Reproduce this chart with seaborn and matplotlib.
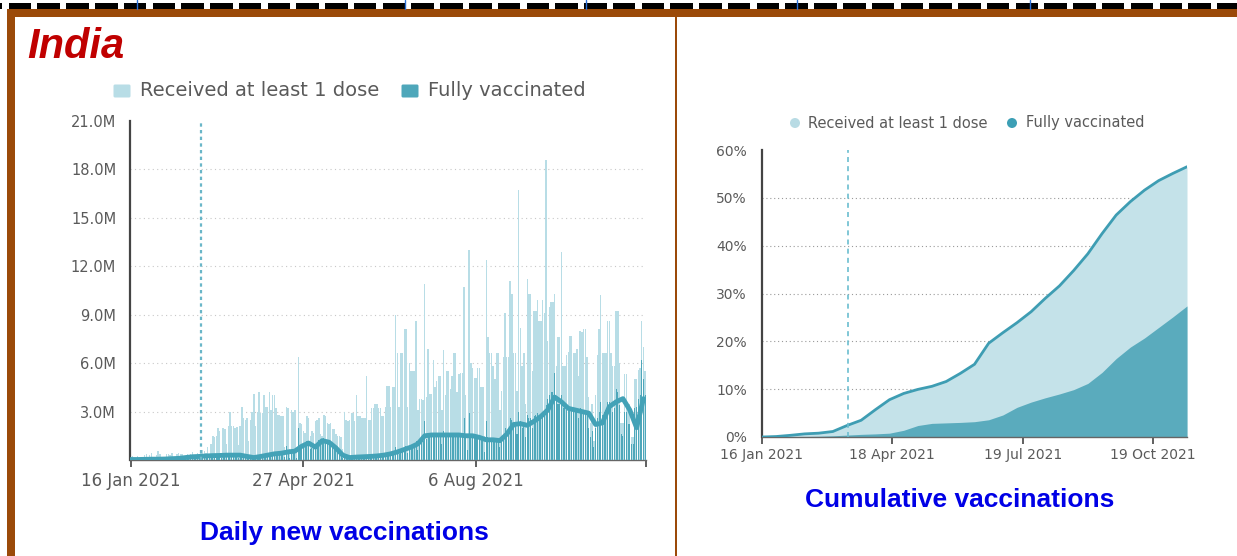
import numpy as np
import pandas as pd
import matplotlib
matplotlib.use('Agg')
import matplotlib.pyplot as plt
from matplotlib.patches import Rectangle, FancyBboxPatch, Circle
from matplotlib import font_manager as fm
import seaborn as sns

sns.set_style('white')
plt.rcParams['font.family'] = ['DejaVu Sans']

avail = {f.name for f in fm.fontManager.ttflist}
NARROW = 'Liberation Sans Narrow' in avail
title_family = 'Liberation Sans Narrow' if NARROW else 'Liberation Sans'

# ---------------- data ----------------
start_date = '2021-01-16'

# daily "received at least 1 dose" (millions), one value per day from 16 Jan 2021
first_dose_daily = [
    0.19, 0.22, 0.00, 0.15, 0.25, 0.12, 0.00, 0.20, 0.30, 0.35,
    0.10, 0.28, 0.45, 0.20, 0.05, 0.30, 0.55, 0.40, 0.20, 0.10,
    0.15, 0.40, 0.35, 0.30, 0.45, 0.10, 0.05, 0.38, 0.42, 0.40,
    0.35, 0.10, 0.12, 0.40, 0.30, 0.35, 0.50, 0.25, 0.10, 0.45,
    0.30, 0.50, 0.60, 0.55, 0.45, 0.80, 0.20, 1.00, 1.50, 1.45,
    1.50, 2.00, 1.80, 0.40, 2.00, 1.90, 1.00, 2.10, 3.00, 2.10,
    2.10, 2.00, 2.05, 0.90, 2.10, 3.30, 2.60, 2.50, 2.60, 1.20,
    2.50, 3.00, 4.10, 2.10, 3.00, 4.20, 2.90, 2.90, 4.00, 3.30,
    3.30, 4.20, 3.10, 4.00, 4.00, 3.20, 2.80, 2.80, 2.70, 2.70,
    0.80, 3.30, 3.20, 0.70, 3.10, 3.00, 3.10, 0.60, 6.40, 2.30,
    2.20, 1.80, 1.70, 2.70, 2.60, 1.50, 1.80, 1.70, 2.40, 2.50,
    2.60, 1.60, 1.50, 2.80, 2.70, 2.30, 2.20, 2.30, 1.90, 1.90,
    1.60, 1.50, 1.50, 1.40, 0.70, 3.00, 2.50, 2.40, 2.50, 2.90,
    2.90, 2.40, 4.00, 2.70, 2.70, 2.60, 2.60, 2.60, 5.20, 2.50,
    2.50, 3.20, 3.20, 3.50, 3.50, 3.20, 3.20, 2.70, 2.70, 3.30,
    4.60, 4.60, 3.30, 4.50, 4.50, 9.00, 6.60, 3.30, 6.60, 6.60,
    8.10, 8.10, 3.30, 6.00, 5.50, 5.50, 5.50, 8.60, 3.10, 3.80,
    3.80, 3.70, 10.90, 3.90, 6.90, 4.10, 4.10, 6.20, 4.50, 4.90,
    5.20, 5.20, 3.10, 6.80, 4.00, 5.50, 5.50, 4.40, 5.20, 6.60,
    6.60, 4.20, 5.30, 5.40, 5.40, 10.70, 4.00, 1.40, 13.00, 6.00,
    5.70, 5.10, 5.10, 5.70, 5.70, 4.50, 4.50, 1.50, 12.40, 7.60,
    6.60, 6.60, 5.80, 5.00, 6.60, 6.60, 3.10, 4.30, 6.40, 9.10,
    6.40, 6.40, 11.10, 10.30, 6.60, 6.60, 4.30, 16.70, 8.20, 5.80,
    6.60, 3.50, 11.20, 10.30, 10.30, 5.50, 9.20, 9.20, 9.90, 8.60,
    8.60, 9.90, 9.10, 18.60, 7.40, 9.50, 9.80, 9.80, 10.30, 5.80,
    7.60, 7.60, 12.90, 5.80, 5.80, 6.50, 6.70, 7.70, 7.70, 6.60,
    6.60, 6.90, 5.20, 8.00, 7.90, 8.10, 8.10, 6.40, 3.90, 2.30,
    3.50, 1.20, 4.00, 6.50, 8.10, 10.20, 6.60, 6.60, 6.60, 8.60,
    8.60, 6.60, 5.80, 5.80, 9.20, 9.20, 6.00, 2.30, 2.30, 5.30,
    5.30, 3.50, 3.50, 1.40, 1.40, 5.00, 5.00, 5.60, 5.70, 8.60,
    7.00, 5.50,
]

# daily "fully vaccinated" (millions)
fully_daily = [
    0.02, 0.02, 0.00, 0.02, 0.03, 0.02, 0.00, 0.03, 0.03, 0.04,
    0.03, 0.04, 0.05, 0.04, 0.02, 0.05, 0.06, 0.05, 0.04, 0.03,
    0.05, 0.06, 0.06, 0.07, 0.08, 0.05, 0.03, 0.09, 0.10, 0.11,
    0.12, 0.08, 0.07, 0.18, 0.20, 0.22, 0.25, 0.18, 0.10, 0.25,
    0.22, 0.28, 0.30, 0.28, 0.25, 0.30, 0.12, 0.28, 0.32, 0.30,
    0.30, 0.32, 0.30, 0.10, 0.30, 0.32, 0.20, 0.35, 0.33, 0.30,
    0.32, 0.30, 0.30, 0.15, 0.30, 0.35, 0.25, 0.20, 0.18, 0.08,
    0.12, 0.15, 0.18, 0.15, 0.20, 0.25, 0.22, 0.25, 0.30, 0.28,
    0.30, 0.35, 0.32, 0.38, 0.40, 0.36, 0.38, 0.42, 0.40, 0.42,
    0.20, 0.85, 0.55, 0.15, 0.55, 0.60, 0.55, 0.12, 2.00, 0.80,
    0.90, 1.00, 1.10, 1.15, 1.00, 0.70, 0.75, 0.80, 0.85, 1.10,
    1.25, 1.20, 1.30, 1.35, 1.25, 1.10, 1.00, 0.95, 0.85, 0.70,
    0.60, 0.50, 0.40, 0.30, 0.10, 0.25, 0.15, 0.12, 0.14, 0.16,
    0.18, 0.15, 0.25, 0.18, 0.20, 0.18, 0.20, 0.21, 0.30, 0.20,
    0.22, 0.24, 0.25, 0.26, 0.27, 0.25, 0.28, 0.25, 0.30, 0.35,
    0.40, 0.42, 0.35, 0.45, 0.50, 0.80, 0.60, 0.40, 0.65, 0.70,
    0.80, 0.85, 0.45, 0.75, 0.80, 0.85, 0.90, 1.20, 0.60, 1.00,
    1.10, 1.20, 2.40, 1.30, 1.70, 1.50, 1.50, 1.70, 1.50, 1.55,
    1.60, 1.60, 1.00, 1.80, 1.40, 1.60, 1.60, 1.50, 1.60, 1.70,
    1.70, 1.40, 1.50, 1.55, 1.55, 2.60, 1.40, 0.60, 2.90, 1.50,
    1.50, 1.40, 1.40, 1.50, 1.45, 1.30, 1.30, 0.50, 2.40, 1.40,
    1.30, 1.30, 1.20, 1.10, 1.30, 1.30, 0.80, 1.10, 1.40, 2.00,
    1.80, 1.90, 2.60, 2.50, 2.10, 2.10, 1.60, 3.00, 2.40, 2.00,
    2.20, 1.40, 2.80, 2.60, 2.60, 2.00, 2.70, 2.80, 2.90, 2.80,
    2.80, 3.00, 3.10, 3.40, 3.80, 4.00, 4.20, 4.20, 5.40, 3.80,
    3.50, 3.50, 4.00, 3.20, 3.20, 3.10, 3.20, 3.30, 3.30, 3.00,
    3.00, 3.10, 2.60, 3.20, 3.10, 3.10, 3.00, 2.80, 2.00, 1.40,
    1.80, 0.80, 2.00, 2.60, 3.00, 3.60, 2.80, 3.00, 3.10, 3.60,
    3.60, 3.20, 3.00, 3.20, 4.40, 4.20, 3.40, 1.60, 1.50, 3.00,
    3.00, 2.20, 2.20, 1.00, 1.00, 3.20, 3.30, 3.80, 4.00, 6.20,
    5.00, 4.00,
]

# smoothed fully vaccinated line (millions), every 4 days
avg_step_days = 4
fully_avg = [
    0.03, 0.03, 0.04, 0.05, 0.05, 0.06, 0.08, 0.10, 0.15, 0.20,
    0.22, 0.25, 0.27, 0.28, 0.30, 0.30, 0.30, 0.22, 0.15, 0.22,
    0.30, 0.38, 0.42, 0.50, 0.55, 0.85, 1.05, 0.80, 1.20, 1.10,
    0.75, 0.30, 0.15, 0.18, 0.20, 0.22, 0.25, 0.30, 0.38, 0.50,
    0.65, 0.80, 1.00, 1.50, 1.55, 1.55, 1.55, 1.55, 1.55, 1.50,
    1.50, 1.40, 1.25, 1.25, 1.20, 1.60, 2.20, 2.25, 2.15, 2.40,
    2.70, 3.10, 3.90, 3.60, 3.20, 3.10, 3.00, 2.90, 2.20, 2.30,
    3.30, 3.60, 3.80, 3.10, 2.00, 3.80,
]

# cumulative share of population (%), every 10 days
cum_step_days = 10
cum_first = [0.0, 0.1, 0.35, 0.65, 0.8, 1.15, 2.4, 3.5, 5.7, 7.8,
             9.1, 9.95, 10.6, 11.6, 13.3, 15.2, 19.6, 21.8, 23.9, 26.2,
             29.0, 31.6, 34.8, 38.3, 42.5, 46.4, 49.2, 51.6, 53.6, 55.1, 56.5]
cum_fully = [0.0, 0.0, 0.05, 0.1, 0.15, 0.25, 0.4, 0.55, 0.65, 0.8,
             1.4, 2.4, 2.85, 2.95, 3.05, 3.2, 3.6, 4.6, 6.2, 7.3,
             8.2, 9.0, 9.9, 11.2, 13.5, 16.4, 18.8, 20.7, 22.9, 25.1, 27.4]

left_tick_dates = ['2021-01-16', '2021-04-27', '2021-08-06']
left_tick_labels = ['16 Jan 2021', '27 Apr 2021', '6 Aug 2021']
right_tick_dates = ['2021-01-16', '2021-04-18', '2021-07-19', '2021-10-19']
right_tick_labels = ['16 Jan 2021', '18 Apr 2021', '19 Jul 2021', '19 Oct 2021']
left_marker_date = '2021-02-26'
right_marker_date = '2021-03-18'
left_yticks_m = [3, 6, 9, 12, 15, 18, 21]
right_yticks = [0, 10, 20, 30, 40, 50, 60]

legend_labels = ['Received at least 1 dose', 'Fully vaccinated']

# ---------------- colours ----------------
LIGHT = '#b8dde6'
DARK = '#4ea7ba'
LINE = '#43a2b7'
FILL_LIGHT = '#c4e2e9'
FILL_DARK = '#5aabbd'
GREY = '#5a5a5a'

W, H = 1237, 556
fig = plt.figure(figsize=(W / 100, H / 100), dpi=100)
fig.patch.set_facecolor('white')

# background / decoration axes in pixel coordinates
bg = fig.add_axes([0, 0, 1, 1], zorder=-5)
bg.set_xlim(0, W)
bg.set_ylim(H, 0)
bg.axis('off')

for k in range(-1, 44):
    x = 8.7 + k * 28.77
    bg.add_patch(Rectangle((x, 3), 22.5, 6, color='black', lw=0))
for x in [137, 405, 586, 797, 1030]:
    bg.plot([x, x], [0, 9], color='#2b6fd6', lw=1)
BROWN = '#9b4a09'
bg.add_patch(Rectangle((7, 9), W - 7, 8, color=BROWN, lw=0))
bg.add_patch(Rectangle((7, 9), 8, H - 9, color=BROWN, lw=0))
bg.add_patch(Rectangle((675, 17), 2, H - 17, color=BROWN, lw=0))

# titles
india_size = 36 if NARROW else 30
bg.text(27, 47, 'India', color='#c00000', fontsize=india_size, fontweight='bold',
        fontstyle='italic', family=title_family, va='center', ha='left')
tsize = 22 if NARROW else 19
bg.text(344, 533, 'Daily new vaccinations', color='#0000e6', fontsize=tsize,
        fontweight='bold', family=title_family, va='center', ha='center')
bg.text(960, 500, 'Cumulative vaccinations', color='#0000e6', fontsize=tsize,
        fontweight='bold', family=title_family, va='center', ha='center')

# left legend
bg.add_patch(FancyBboxPatch((115, 86), 14, 10, boxstyle='round,pad=1.5', color=LIGHT, lw=0))
bg.text(140, 91, legend_labels[0], color=GREY, fontsize=14, va='center', ha='left')
bg.add_patch(FancyBboxPatch((403, 86), 14, 10, boxstyle='round,pad=1.5', color=DARK, lw=0))
bg.text(428, 91, legend_labels[1], color=GREY, fontsize=14, va='center', ha='left')

# right legend
bg.add_patch(Circle((795, 123), 5, color='#b8dbe4', lw=0))
bg.text(808, 123, legend_labels[0], color=GREY, fontsize=10.5, va='center', ha='left')
bg.add_patch(Circle((1012, 123), 5, color='#3c9fb5', lw=0))
bg.text(1026, 123, legend_labels[1], color=GREY, fontsize=10.5, va='center', ha='left')

# ---------------- left: daily ----------------
start = pd.Timestamp(start_date)
n_days = len(first_dose_daily)
day_dates = pd.date_range(start, periods=n_days, freq='D')
daily = pd.DataFrame({'date': day_dates,
                      'first': np.array(first_dose_daily) * 1e6,
                      'fully': np.array(fully_daily) * 1e6})
avg_df = pd.DataFrame({'date': pd.date_range(start, periods=len(fully_avg), freq=f'{avg_step_days}D'),
                       'avg': np.array(fully_avg) * 1e6})

axL = fig.add_axes([130 / W, 1 - 460 / H, (646 - 130) / W, (460 - 121) / H])
for v in left_yticks_m[:-1]:
    axL.axhline(v * 1e6, color='#c8c8c8', lw=0.8, ls=(0, (1, 3)), zorder=0)
axL.bar(daily['date'], daily['first'], width=0.85, color=LIGHT, lw=0, zorder=2)
axL.bar(daily['date'], daily['fully'], width=0.6, color=DARK, lw=0, zorder=3)
sns.lineplot(data=avg_df, x='date', y='avg', ax=axL, color=LINE, lw=3.5, zorder=4, legend=False)
axL.axvline(pd.Timestamp(left_marker_date), color='#6ab6c8', lw=1.6, ls=(0, (1.5, 1.5)), zorder=5)

axL.set_xlim(start - pd.Timedelta(days=0.5), start + pd.Timedelta(days=n_days - 0.5))
axL.set_ylim(0, 21e6)
end_tick = start + pd.Timedelta(days=n_days - 0.5)
axL.set_xticks([pd.Timestamp(d) for d in left_tick_dates] + [end_tick])
axL.set_xticklabels(left_tick_labels + [''])
axL.set_yticks([v * 1e6 for v in left_yticks_m])
axL.set_yticklabels([f'{v:.1f}M' for v in left_yticks_m])
axL.tick_params(axis='x', length=5, width=1.2, color='#444444', labelcolor=GREY,
                labelsize=12, pad=4, direction='out', bottom=True)
axL.tick_params(axis='y', length=0, labelcolor=GREY, labelsize=10.5, pad=10, left=False)
for s in ['top', 'right']:
    axL.spines[s].set_visible(False)
axL.spines['left'].set_color('#444444')
axL.spines['left'].set_linewidth(1.6)
axL.spines['bottom'].set_color('#666666')
axL.spines['bottom'].set_linewidth(1.0)
axL.set_xlabel('')
axL.set_ylabel('')
axL.set_facecolor('none')

# ---------------- right: cumulative ----------------
cum_df = pd.DataFrame({'date': pd.date_range(start, periods=len(cum_first), freq=f'{cum_step_days}D'),
                       'first': cum_first, 'fully': cum_fully})
axR = fig.add_axes([762 / W, 1 - 437 / H, (1187 - 762) / W, (437 - 150) / H])
for v in right_yticks[1:-1]:
    axR.axhline(v, color='#9a9a9a', lw=0.8, ls=(0, (1, 2.5)), zorder=0)
axR.fill_between(cum_df['date'], 0, cum_df['first'], color=FILL_LIGHT, lw=0, zorder=1)
axR.fill_between(cum_df['date'], 0, cum_df['fully'], color=FILL_DARK, lw=0, zorder=2)
sns.lineplot(data=cum_df, x='date', y='first', ax=axR, color='#3e9db3', lw=2, zorder=3, legend=False)
axR.axvline(pd.Timestamp(right_marker_date), color='#6bbdd0', lw=1.2, ls=(0, (3, 2.5)), zorder=4)
axR.set_xlim(start, cum_df['date'].iloc[-1])
axR.set_ylim(0, 60)
axR.set_xticks([pd.Timestamp(d) for d in right_tick_dates])
axR.set_xticklabels(right_tick_labels)
axR.set_yticks(right_yticks)
axR.set_yticklabels([f'{v}%' for v in right_yticks])
axR.tick_params(axis='x', length=5, width=1.2, color='#444444', labelcolor=GREY,
                labelsize=10, pad=3, direction='out', bottom=True)
axR.tick_params(axis='y', length=0, labelcolor=GREY, labelsize=10, pad=11, left=False)
for s in ['top', 'right']:
    axR.spines[s].set_visible(False)
axR.spines['left'].set_color('#444444')
axR.spines['left'].set_linewidth(1.6)
axR.spines['bottom'].set_color('#666666')
axR.spines['bottom'].set_linewidth(1.0)
axR.set_xlabel('')
axR.set_ylabel('')
axR.set_facecolor('none')

fig.savefig('out.png', dpi=100, facecolor='white')
